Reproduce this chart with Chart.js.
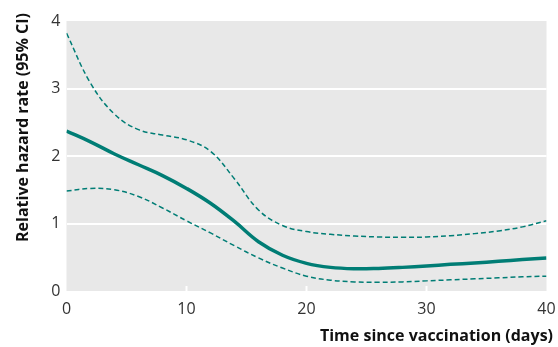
<!DOCTYPE html>
<html>
<head>
<meta charset="utf-8">
<script src="https://cdn.jsdelivr.net/npm/chart.js@4"></script>
<style>
  html, body { margin: 0; padding: 0; background: #fff; }
  #wrap { width: 558px; height: 347px; }
</style>
</head>
<body>
<div id="wrap"><canvas id="chart" width="558" height="347"></canvas></div>
<script>
// days since vaccination
let days = [0, 2, 4, 6, 8, 10, 12, 14, 16, 18, 20, 22, 24, 26, 28, 30, 32, 34, 36, 38, 40];
// relative hazard rate and 95% CI bounds
let hazard = [2.37, 2.21, 2.03, 1.87, 1.71, 1.52, 1.30, 1.03, 0.73, 0.53, 0.41, 0.35, 0.33, 0.335, 0.35, 0.37, 0.395, 0.415, 0.44, 0.465, 0.49];
let upperCI = [3.82, 3.08, 2.62, 2.39, 2.31, 2.24, 2.07, 1.66, 1.20, 0.97, 0.88, 0.84, 0.815, 0.80, 0.795, 0.80, 0.82, 0.85, 0.89, 0.95, 1.04];
let lowerCI = [1.48, 1.52, 1.50, 1.40, 1.23, 1.04, 0.86, 0.67, 0.49, 0.34, 0.22, 0.16, 0.135, 0.13, 0.135, 0.15, 0.165, 0.18, 0.195, 0.21, 0.22];
let xTicks = [0, 10, 20, 30, 40];
let yTicks = [0, 1, 2, 3, 4];

let xTitle = 'Time since vaccination (days)';
let yTitle = 'Relative hazard rate (95% CI)';

let teal = '#007d75';
let font = '"Open Sans", sans-serif';

function toPoints(ys) {
    return days.map((d, i) => ({ x: d, y: ys[i] }));
}

let panelPlugin = {
    id: 'panel',
    beforeDraw(chart) {
        let { ctx, chartArea: a } = chart;
        ctx.save();
        ctx.fillStyle = '#e8e8e8';
        ctx.fillRect(a.left, a.top, a.right - a.left, a.bottom - a.top);
        ctx.restore();
    },
    beforeDatasetsDraw(chart) {
        // little white ticks sitting inside the panel on the x axis
        let { ctx, chartArea: a } = chart;
        let xs = chart.scales.x;
        ctx.save();
        ctx.strokeStyle = '#ffffff';
        ctx.lineWidth = 2;
        for (let t of xTicks.slice(1, -1)) {
            let px = xs.getPixelForValue(t);
            ctx.beginPath();
            ctx.moveTo(px, a.bottom);
            ctx.lineTo(px, a.bottom - 5);
            ctx.stroke();
        }
        ctx.restore();
    },
    afterDraw(chart) {
        let { ctx } = chart;
        ctx.save();
        ctx.fillStyle = '#111';
        ctx.font = 'bold 16px ' + font;
        ctx.textAlign = 'right';
        ctx.textBaseline = 'alphabetic';
        ctx.fillText(xTitle, 553, 341);
        ctx.translate(28, 13);
        ctx.rotate(-Math.PI / 2);
        ctx.fillText(yTitle, 0, 0);
        ctx.restore();
    }
};

let ctx = document.getElementById('chart').getContext('2d');
let chartObject = new Chart(ctx, {
    type: 'line',
    data: {
        datasets: [
            {
                label: 'Upper 95% CI',
                data: toPoints(upperCI),
                borderColor: teal,
                borderWidth: 1.5,
                borderDash: [5, 3],
                tension: 0.4,
                pointRadius: 0,
                fill: false
            },
            {
                label: 'Relative hazard rate',
                data: toPoints(hazard),
                borderColor: teal,
                borderWidth: 3.5,
                tension: 0.4,
                pointRadius: 0,
                fill: false
            },
            {
                label: 'Lower 95% CI',
                data: toPoints(lowerCI),
                borderColor: teal,
                borderWidth: 1.5,
                borderDash: [5, 3],
                tension: 0.4,
                pointRadius: 0,
                fill: false
            }
        ]
    },
    options: {
        responsive: false,
        animation: false,
        layout: { padding: { top: 21, right: 11.5, left: 0, bottom: 0 } },
        plugins: {
            legend: { display: false },
            tooltip: { enabled: false }
        },
        scales: {
            x: {
                type: 'linear',
                min: 0,
                max: 40,
                afterBuildTicks: s => { s.ticks = xTicks.map(v => ({ value: v })); },
                afterFit: s => { s.height = 56; },
                border: { display: false },
                grid: { display: false },
                ticks: {
                    color: '#333',
                    font: { family: font, size: 16 },
                    padding: 1,
                    maxRotation: 0
                }
            },
            y: {
                min: 0,
                max: 4,
                afterBuildTicks: s => { s.ticks = yTicks.map(v => ({ value: v })); },
                afterFit: s => { s.width = 66.5; },
                border: { display: false },
                grid: {
                    color: c => (c.tick.value > 0 && c.tick.value < 4) ? '#ffffff' : 'rgba(0,0,0,0)',
                    lineWidth: 2,
                    drawTicks: false
                },
                ticks: {
                    color: '#333',
                    font: { family: font, size: 16 },
                    padding: 6
                }
            }
        }
    },
    plugins: [panelPlugin]
});
</script>
</body>
</html>
